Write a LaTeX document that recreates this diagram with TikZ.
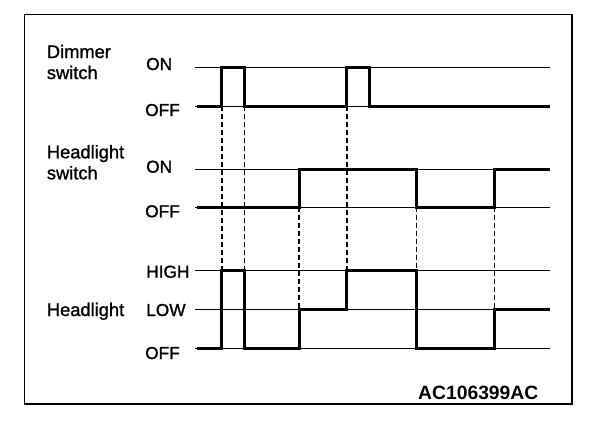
\documentclass[tikz,border=0pt]{standalone}
\usepackage{fontspec}
\setmainfont{Liberation Sans}
\newfontfamily\heavyfont[FakeBold=1.2]{Liberation Sans}
\begin{document}
\begin{tikzpicture}[x=1pt,y=-1pt,
  level/.style={line width=0.8pt},
  signal/.style={line width=3pt,line join=miter},
  thickdash/.style={line width=1.8pt,dash pattern=on 5pt off 3pt},
  thindash/.style={line width=0.8pt,dash pattern=on 5pt off 3pt},
  lbl/.style={anchor=base west,inner sep=0pt,font=\heavyfont\fontsize{18.3}{21}\selectfont,align=left},
  st/.style={anchor=base west,inner sep=0pt,font=\heavyfont\fontsize{17.3}{20}\selectfont}]
\useasboundingbox (0,0) rectangle (608,424);
\draw[line width=1.5pt] (24.5,14.5) rectangle (572,404);
% level lines
\foreach \y in {67.3,106.3,169,207.3,270.7,309.3,348.3}
  \draw[level] (195,\y) -- (550,\y);
% dashed guides
\draw[thickdash] (221.7,106.3) -- (221.7,270.7);
\draw[thindash] (244,106.3) -- (244,270.7);
\draw[thickdash] (299.3,207.3) -- (299.3,309.3);
\draw[thickdash] (346.7,106.3) -- (346.7,270.7);
\draw[thindash] (416,207.3) -- (416,270.7);
\draw[thindash] (494.3,207.3) -- (494.3,309.3);
% signals
\draw[signal] (197,106.3) -| (221.7,67.3) -| (244,106.3) -| (346.7,67.3) -| (369,106.3) -- (550,106.3);
\draw[signal] (197,207.3) -| (299.3,169) -| (416,207.3) -| (494.3,169) -- (550,169);
\draw[signal] (197,348.3) -| (221.7,270.7) -| (244,348.3) -| (299.3,309.3) -| (346.7,270.7) -| (416,348.3) -| (494.3,309.3) -- (550,309.3);
% labels
\node[lbl] (dim) at (46.7,79) {Dimmer\\switch};
\node[lbl] (hsw) at (46.7,179.3) {Headlight\\switch};
\node[lbl] (hl) at (46.7,316) {Headlight};
\node[st] (s1) at (146,70) {ON};
\node[st] (s2) at (145,116) {OFF};
\node[st] (s3) at (146,172.7) {ON};
\node[st] (s4) at (145,217.3) {OFF};
\node[st] (s5) at (146,277.7) {HIGH};
\node[st] (s6) at (146,316) {LOW};
\node[st] (s7) at (145,359) {OFF};
\node[anchor=base west,inner sep=0pt,font=\fontsize{19.3}{21}\selectfont\bfseries] (code) at (418,399) {AC106399AC};
\end{tikzpicture}
\end{document}
